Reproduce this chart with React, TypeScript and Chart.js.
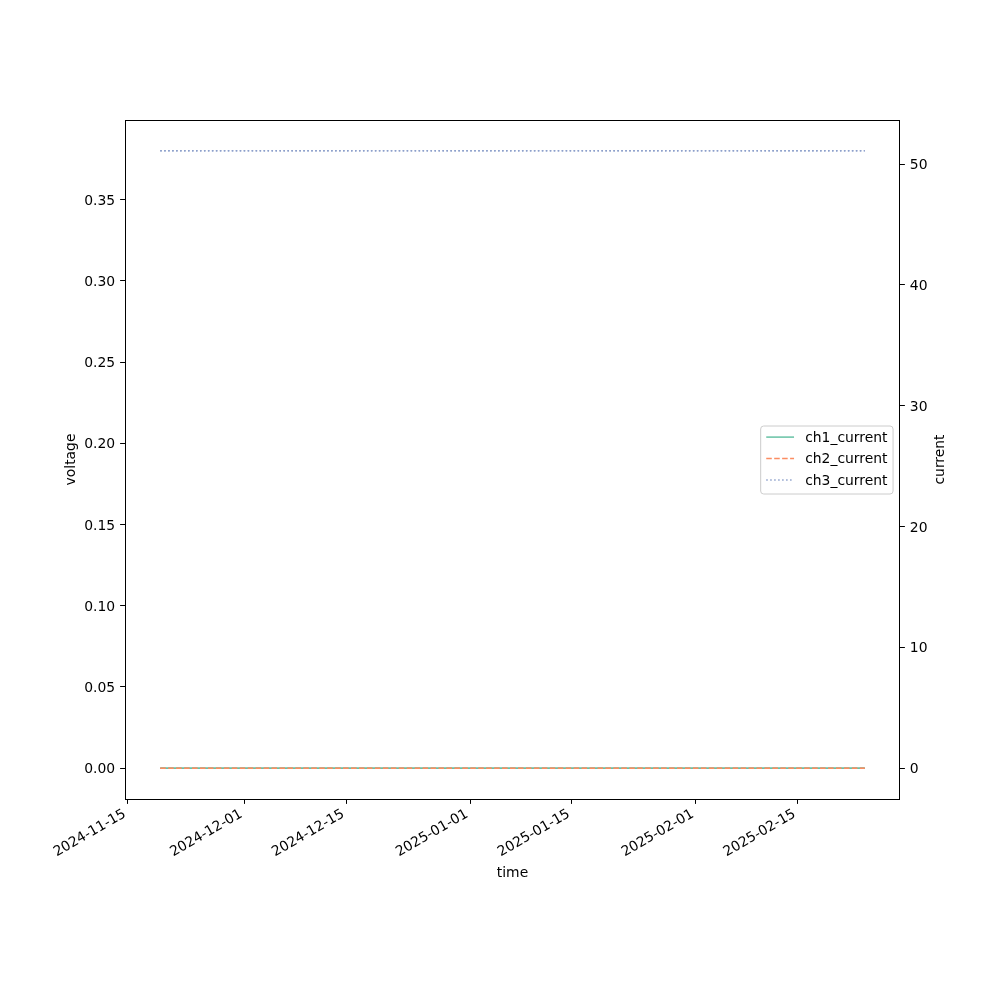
import React, { useEffect, useRef } from "react";
import { Chart, registerables } from "chart.js";

Chart.register(...registerables);

// ---- data ----
const times: string[] = ["2024-11-19T11:00:00Z", "2025-02-24T05:00:00Z"];
const ch1Current: number[] = [0, 0];
const ch2Current: number[] = [0, 0];
const ch3Current: number[] = [51.1, 51.1];
const ch1Voltage: number[] = [0, 0];
const ch2Voltage: number[] = [0, 0];
const ch3Voltage: number[] = [0.38, 0.38];
const xTickLabels: string[] = [
  "2024-11-15",
  "2024-12-01",
  "2024-12-15",
  "2025-01-01",
  "2025-01-15",
  "2025-02-01",
  "2025-02-15",
];
const leftTicks: number[] = [0, 0.05, 0.1, 0.15, 0.2, 0.25, 0.3, 0.35];
const rightTicks: number[] = [0, 10, 20, 30, 40, 50];

const FONT = "'DejaVu Sans', sans-serif";
const FS = 13.9;
const GREEN = "#66c2a5";
const ORANGE = "#fc8d62";
const BLUE = "#8da0cb";

const tMs = times.map((t) => Date.parse(t));
const xTickMs = xTickLabels.map((s) => Date.parse(s + "T00:00:00Z"));

function padRange(vals: number[]) {
  const mn = Math.min(...vals);
  const mx = Math.max(...vals);
  const span = mx - mn;
  return { min: mn - 0.05 * span, max: mx + 0.05 * span };
}

const xr = padRange(tMs);
const lr = padRange([...ch1Voltage, ...ch2Voltage, ...ch3Voltage]);
const rr = padRange([...ch1Current, ...ch2Current, ...ch3Current]);

const pts = (vals: number[]) => vals.map((v, i) => ({ x: tMs[i], y: v }));

const framePlugin = {
  id: "frameAndLegend",
  afterDraw(chart: any) {
    const { ctx, chartArea } = chart;
    const { left, right, top, bottom } = chartArea;
    ctx.save();
    // four spines, pixel-snapped
    ctx.strokeStyle = "#000";
    ctx.lineWidth = 1;
    const l = Math.round(left) + 0.5;
    const t = Math.round(top) + 0.5;
    const rr2 = Math.round(right) - 0.5;
    const b = Math.round(bottom) + 0.5;
    ctx.strokeRect(l, t, rr2 - l, b - t);

    // right axis title
    ctx.fillStyle = "#000";
    ctx.font = `${FS}px ${FONT}`;
    ctx.textAlign = "center";
    ctx.textBaseline = "middle";
    ctx.translate(940, (top + bottom) / 2);
    ctx.rotate(-Math.PI / 2);
    ctx.fillText("current", 0, 0);
    ctx.restore();

    // legend
    const items = chart.data.datasets.filter((d: any) => d.inLegend);
    ctx.save();
    ctx.font = `${FS}px ${FONT}`;
    const textW = Math.max(...items.map((d: any) => ctx.measureText(d.label).width));
    const borderPad = 0.4 * FS;
    const handleLen = 2 * FS;
    const handlePad = 0.8 * FS;
    const rowH = 21.4;
    const midY = (top + bottom) / 2;
    const boxW = borderPad * 2 + handleLen + handlePad + textW;
    const boxH = 68;
    const bx = right - 0.5 * FS - boxW;
    const by = midY + 0.5 - boxH / 2;
    const r = 3;
    ctx.beginPath();
    ctx.moveTo(bx + r, by);
    ctx.lineTo(bx + boxW - r, by);
    ctx.quadraticCurveTo(bx + boxW, by, bx + boxW, by + r);
    ctx.lineTo(bx + boxW, by + boxH - r);
    ctx.quadraticCurveTo(bx + boxW, by + boxH, bx + boxW - r, by + boxH);
    ctx.lineTo(bx + r, by + boxH);
    ctx.quadraticCurveTo(bx, by + boxH, bx, by + boxH - r);
    ctx.lineTo(bx, by + r);
    ctx.quadraticCurveTo(bx, by, bx + r, by);
    ctx.closePath();
    ctx.fillStyle = "rgba(255,255,255,0.8)";
    ctx.fill();
    ctx.strokeStyle = "#cccccc";
    ctx.lineWidth = 1;
    ctx.stroke();
    items.forEach((d: any, i: number) => {
      const cy = midY - 1 + (i - (items.length - 1) / 2) * rowH;
      ctx.save();
      ctx.strokeStyle = d.borderColor;
      ctx.lineWidth = 1.5;
      ctx.setLineDash(d.borderDash || []);
      ctx.beginPath();
      ctx.moveTo(bx + borderPad, cy);
      ctx.lineTo(bx + borderPad + handleLen, cy);
      ctx.stroke();
      ctx.restore();
      ctx.fillStyle = "#000";
      ctx.textAlign = "left";
      ctx.textBaseline = "middle";
      ctx.fillText(d.label, bx + borderPad + handleLen + handlePad, cy + 1);
    });
    ctx.restore();
  },
};

export default function App() {
  const ref = useRef<HTMLCanvasElement | null>(null);
  useEffect(() => {
    if (!ref.current) return;
    const common = {
      pointRadius: 0,
      borderWidth: 1.5,
      fill: false,
      tension: 0,
      borderCapStyle: "butt",
    };
    const gridOpts = { drawOnChartArea: false, drawTicks: true, tickLength: 4.9, tickColor: "#000", tickWidth: 1 };
    const chart = new Chart(ref.current, {
      type: "line",
      data: {
        datasets: [
          { ...common, label: "ch1_voltage", data: pts(ch1Voltage), borderColor: GREEN, yAxisID: "y", order: 6 },
          { ...common, label: "ch2_voltage", data: pts(ch2Voltage), borderColor: ORANGE, borderDash: [5.55, 2.4], yAxisID: "y", order: 5 },
          { ...common, label: "ch3_voltage", data: pts(ch3Voltage), borderColor: BLUE, borderDash: [1.5, 2.475], yAxisID: "y", order: 4 },
          { ...common, label: "ch1_current", data: pts(ch1Current), borderColor: GREEN, yAxisID: "y1", order: 3, inLegend: true },
          { ...common, label: "ch2_current", data: pts(ch2Current), borderColor: ORANGE, borderDash: [5.55, 2.4], yAxisID: "y1", order: 2, inLegend: true },
          { ...common, label: "ch3_current", data: pts(ch3Current), borderColor: BLUE, borderDash: [1.5, 2.475], yAxisID: "y1", order: 1, inLegend: true },
        ] as any,
      },
      options: {
        animation: false,
        responsive: true,
        maintainAspectRatio: false,
        layout: { padding: { top: 120, left: 58.7, right: 0, bottom: 114.7 } },
        plugins: { legend: { display: false }, tooltip: { enabled: false } },
        scales: {
          x: {
            type: "linear",
            min: xr.min,
            max: xr.max,
            afterBuildTicks: (s: any) => {
              s.ticks = xTickMs.map((v) => ({ value: v }));
            },
            afterFit: (s: any) => {
              s.height = 86.3;
            },
            ticks: {
              autoSkip: false,
              minRotation: 30,
              maxRotation: 30,
              padding: 2,
              labelOffset: -3,
              color: "#000",
              font: { family: FONT, size: FS },
              callback: (v: any) => {
                const i = xTickMs.indexOf(Number(v));
                return i >= 0 ? xTickLabels[i] : "";
              },
            },
            grid: gridOpts,
            border: { display: false },
            title: { display: true, text: "time", color: "#000", font: { family: FONT, size: FS, lineHeight: 1.2 }, padding: { top: 4, bottom: 4 } },
          },
          y: {
            type: "linear",
            position: "left",
            min: lr.min,
            max: lr.max,
            afterBuildTicks: (s: any) => {
              s.ticks = leftTicks.map((v) => ({ value: v }));
            },
            afterFit: (s: any) => {
              s.width = 66.3;
            },
            ticks: {
              padding: 4.9,
              labelOffset: 1.5,
              color: "#000",
              font: { family: FONT, size: FS },
              callback: (v: any) => Number(v).toFixed(2),
            },
            grid: gridOpts,
            border: { display: false },
            title: { display: true, text: "voltage", color: "#000", font: { family: FONT, size: FS, lineHeight: 1.2 }, padding: { top: 4, bottom: 4 } },
          },
          y1: {
            type: "linear",
            position: "right",
            min: rr.min,
            max: rr.max,
            afterBuildTicks: (s: any) => {
              s.ticks = rightTicks.map((v) => ({ value: v }));
            },
            afterFit: (s: any) => {
              s.width = 100;
            },
            ticks: {
              padding: 4.9,
              labelOffset: 1.5,
              color: "#000",
              font: { family: FONT, size: FS },
              callback: (v: any) => String(v),
            },
            grid: gridOpts,
            border: { display: false },
          },
        },
      } as any,
      plugins: [framePlugin],
    });
    return () => chart.destroy();
  }, []);
  return (
    <div style={{ position: "absolute", left: 0, top: 0, width: 1000, height: 1000, background: "#fff" }}>
      <canvas ref={ref} />
    </div>
  );
}
